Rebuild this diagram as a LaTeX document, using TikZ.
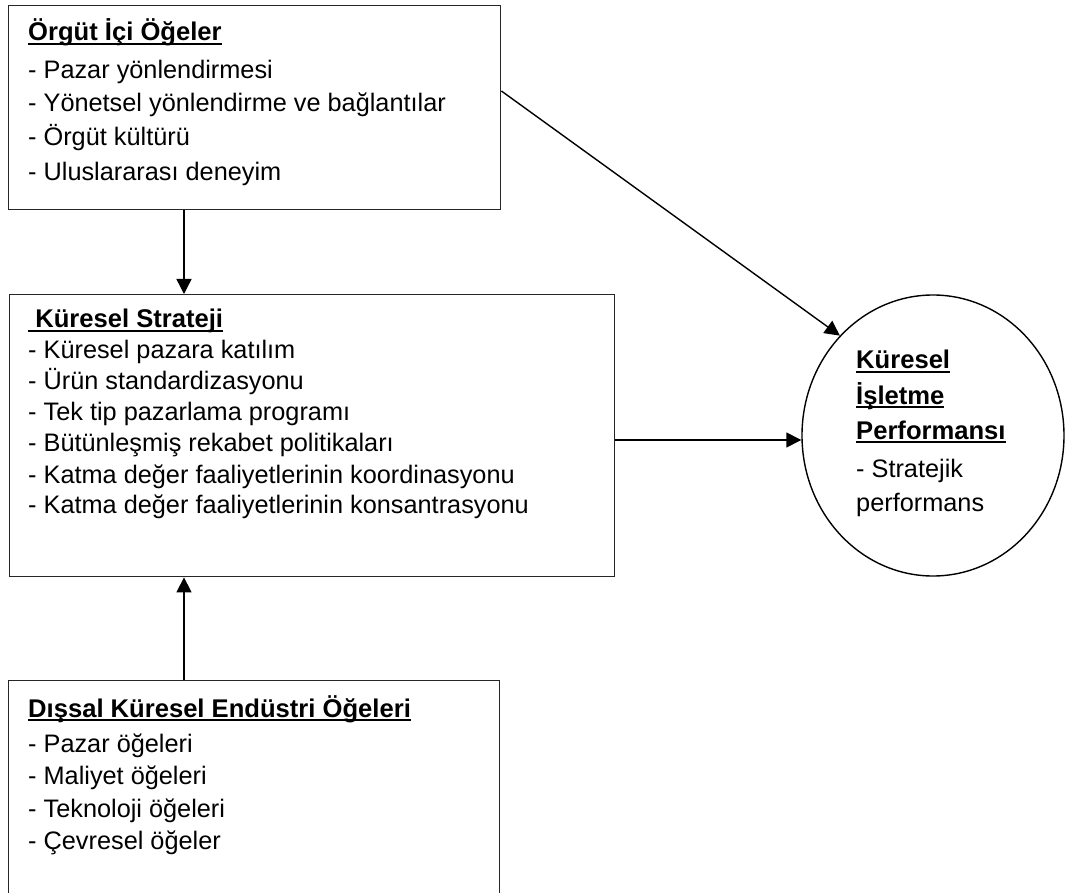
\documentclass[tikz,border=0pt]{standalone}
\usepackage{fontspec}
\setmainfont{Liberation Sans}
\usetikzlibrary{arrows.meta,shapes.geometric}
\newcommand\myul[1]{\setbox0\hbox{#1}\rlap{\rule[-3.8pt]{\wd0}{1.8pt}}\box0}
\begin{document}
\begin{tikzpicture}[x=1pt,y=-1pt,
  box/.style={draw=black!85, line width=1.4pt, rectangle, inner sep=0pt, anchor=north west},
  txt/.style={anchor=base west, inner sep=0pt, font=\fontsize{25.3}{30}\selectfont},
  ttl/.style={anchor=base west, inner sep=0pt, font=\fontsize{25.6}{30}\selectfont\bfseries},
  arr/.style={line width=1.4pt, -{Triangle[length=15pt,width=15pt]}}]
\useasboundingbox (0,0) rectangle (1066,893);
\clip (0,0) rectangle (1066,893);
\fill[white] (0,0) rectangle (1066,893);
% boxes
\node[box, minimum width=492pt, minimum height=204pt] (top) at (8,5) {};
\node[box, minimum width=605pt, minimum height=282pt] (strat) at (9,294) {};
\node[box, minimum width=491pt, minimum height=260pt] (bot) at (8,680) {};
\node[draw=black, line width=1.4pt, ellipse, inner sep=0pt, minimum width=262pt, minimum height=281pt] (perf) at (933,435.5) {};
% top box text
\node[ttl] (t0) at (28,41) {\myul{Örgüt İçi Öğeler}};
\node[txt] (t1) at (28,79) {- Pazar yönlendirmesi};
\node[txt] (t2) at (28,112) {- Yönetsel yönlendirme ve bağlantılar};
\node[txt] (t3) at (28,146) {- Örgüt kültürü};
\node[txt] (t4) at (28,181) {- Uluslararası deneyim};
% strategy text
\node[ttl] (s0) at (28,328) {\myul{\ Küresel Strateji}};
\node[txt] (s1) at (28,359) {- Küresel pazara katılım};
\node[txt] (s2) at (28,389) {- Ürün standardizasyonu};
\node[txt] (s3) at (28,420) {- Tek tip pazarlama programı};
\node[txt] (s4) at (28,451) {- Bütünleşmiş rekabet politikaları};
\node[txt] (s5) at (28,483) {- Katma değer faaliyetlerinin koordinasyonu};
\node[txt] (s6) at (28,513) {- Katma değer faaliyetlerinin konsantrasyonu};
% circle text
\node[ttl] (p0) at (856,369) {\myul{Küresel}};
\node[ttl] (p1) at (856,404) {\myul{İşletme}};
\node[ttl] (p2) at (856,439) {\myul{Performansı}};
\node[txt] (p3) at (856,477) {- Stratejik};
\node[txt] (p4) at (856,511) {performans};
% bottom text
\node[ttl] (b0) at (28,717) {\myul{Dışsal Küresel Endüstri Öğeleri}};
\node[txt] (b1) at (28,752) {- Pazar öğeleri};
\node[txt] (b2) at (28,784) {- Maliyet öğeleri};
\node[txt] (b3) at (28,817) {- Teknoloji öğeleri};
\node[txt] (b4) at (28,849) {- Çevresel öğeler};
% connectors
\coordinate (cx) at (184,0);
\coordinate (dy) at (0,91);
\coordinate (hy) at (0,440);
\draw[arr] (top.south -| cx) -- (strat.north -| cx);
\draw[arr] (bot.north -| cx) -- (strat.south -| cx);
\draw[arr] (top.east |- dy) -- (perf.133);
\draw[arr] (strat.east |- hy) -- (perf.west |- hy);
\end{tikzpicture}
\end{document}
